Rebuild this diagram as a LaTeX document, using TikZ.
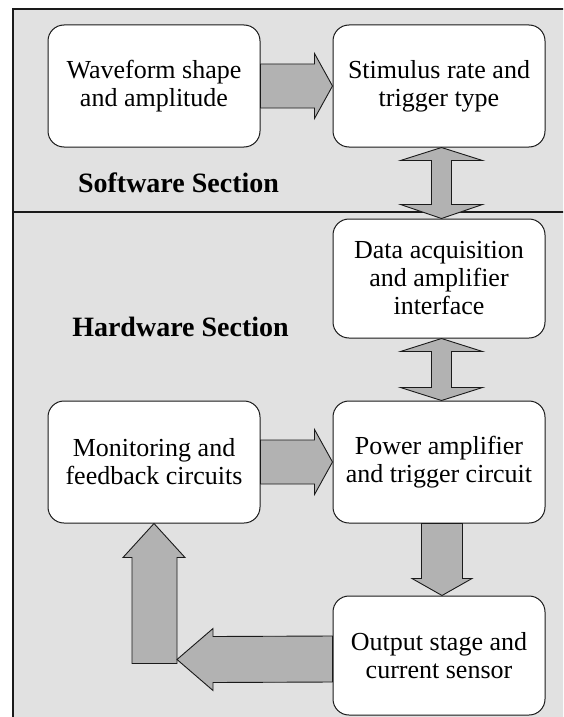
\documentclass[tikz,border=0pt]{standalone}
\usepackage{fontspec}
\setmainfont{Liberation Serif}
\usetikzlibrary{calc}
\definecolor{bggray}{HTML}{E1E1E1}
\definecolor{argray}{HTML}{B2B2B2}
\definecolor{lineblk}{HTML}{1A1A1A}
\begin{document}
\begin{tikzpicture}[x=1pt,y=-1pt,
 box/.style={draw=lineblk, line width=1pt, fill=white, rounded corners=16pt, minimum width=212pt, inner sep=0pt, align=center, font=\fontsize{26}{28}\selectfont},
 barrow/.style={draw=lineblk, line width=0.9pt, fill=argray, line join=miter},
 sect/.style={font=\fontsize{28}{30}\selectfont\bfseries, inner sep=0pt}]
\useasboundingbox (0,0) rectangle (563,717);
\clip (0,0) rectangle (563,717);
\fill[white] (0,0) rectangle (563,717);
\draw[lineblk, line width=1.2pt, fill=bggray] (13,9) rectangle (620,760);
\draw[lineblk, line width=1.2pt] (13,212) -- (620,212);

\node[box, minimum height=122pt] (b1) at (154,86) {Waveform shape\\and amplitude};
\node[box, minimum height=122pt] (b2) at (439,86) {Stimulus rate and\\trigger type};
\node[box, minimum height=119pt] (b3) at (439,278.5) {Data acquisition\\and amplifier\\interface};
\node[box, minimum height=122pt] (b4) at (439,462) {Power amplifier\\and trigger circuit};
\node[box, minimum height=122pt] (b5) at (154,462) {Monitoring and\\feedback circuits};
\node[box, minimum height=119pt] (b6) at (439,655.5) {Output stage and\\current sensor};

\node[sect] (sw) at (178.5,183) {Software Section};
\node[sect] (hw) at (180.5,327) {Hardware Section};

% right arrow b1 -> b2
\draw[barrow] ($(b1.east)+(0,-22)$) -- ($(b2.west)+(-18,-22)$) -- ($(b2.west)+(-18,-32.5)$) -- (b2.west)
  -- ($(b2.west)+(-18,32.5)$) -- ($(b2.west)+(-18,22)$) -- ($(b1.east)+(0,22)$) -- cycle;
% right arrow b5 -> b4
\draw[barrow] ($(b5.east)+(0,-22)$) -- ($(b4.west)+(-18,-22)$) -- ($(b4.west)+(-18,-32.5)$) -- (b4.west)
  -- ($(b4.west)+(-18,32.5)$) -- ($(b4.west)+(-18,22)$) -- ($(b5.east)+(0,22)$) -- cycle;
% double arrow b2 <-> b3
\coordinate (d1t) at ($(b2.south)+(2.5,0)$);
\coordinate (d1b) at ($(b3.north)+(2.5,0)$);
\draw[barrow] (d1t) -- ($(d1t)+(41,13)$) -- ($(d1t)+(10,13)$) -- ($(d1b)+(10,-14)$) -- ($(d1b)+(41,-14)$) -- (d1b)
  -- ($(d1b)+(-41,-14)$) -- ($(d1b)+(-10,-14)$) -- ($(d1t)+(-10,13)$) -- ($(d1t)+(-41,13)$) -- cycle;
% double arrow b3 <-> b4
\coordinate (d2t) at ($(b3.south)+(2.5,0)$);
\coordinate (d2b) at ($(b4.north)+(2.5,0)$);
\draw[barrow] (d2t) -- ($(d2t)+(41,13)$) -- ($(d2t)+(10,13)$) -- ($(d2b)+(10,-13)$) -- ($(d2b)+(41,-13)$) -- (d2b)
  -- ($(d2b)+(-41,-13)$) -- ($(d2b)+(-10,-13)$) -- ($(d2t)+(-10,13)$) -- ($(d2t)+(-41,13)$) -- cycle;
% down arrow b4 -> b6
\coordinate (dnt) at ($(b4.south)+(3,0)$);
\coordinate (dnp) at ($(b6.north)+(3,0)$);
\draw[barrow] ($(dnt)+(-20.5,0)$) -- ($(dnp)+(-20.5,-17)$) -- ($(dnp)+(-30,-17)$) -- (dnp)
  -- ($(dnp)+(30,-17)$) -- ($(dnp)+(20.5,-17)$) -- ($(dnt)+(20.5,0)$) -- cycle;
% up arrow to b5
\coordinate (upb) at ($(b5.south)+(0.5,140)$);
\coordinate (upp) at (b5.south);
\draw[barrow] ($(upb)+(-22.5,0)$) -- ($(upp)+(-22,34)$) -- ($(upp)+(-31,34)$) -- (upp)
  -- ($(upp)+(31,34)$) -- ($(upp)+(23,34)$) -- ($(upb)+(22.5,0)$) -- cycle;
% left arrow from b6
\coordinate (lft) at ($(b6.west)+(0,3.5)$);
\coordinate (lfp) at ($(upb)+(22.5,-4)$);
\draw[barrow] ($(lft)+(0,-23)$) -- ($(lfp)+(36,-23)$) -- ($(lfp)+(36,-31)$) -- (lfp)
  -- ($(lfp)+(36,31)$) -- ($(lfp)+(36,23)$) -- ($(lft)+(0,23)$) -- cycle;
\end{tikzpicture}
\end{document}
